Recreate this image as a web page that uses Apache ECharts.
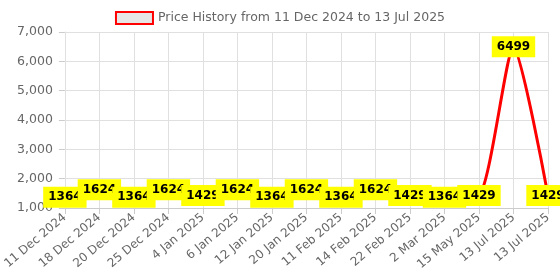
<!DOCTYPE html>
<html><head><meta charset="utf-8">
<script src="https://cdn.jsdelivr.net/npm/echarts@6/dist/echarts.min.js"></script>
<style>html,body{margin:0;padding:0;background:#fff}#c{width:560px;height:280px}</style>
</head><body><div id="c"></div>
<script>
const categories = ["11 Dec 2024","18 Dec 2024","20 Dec 2024","25 Dec 2024","4 Jan 2025","6 Jan 2025","12 Jan 2025","20 Jan 2025","11 Feb 2025","14 Feb 2025","22 Feb 2025","2 Mar 2025","15 May 2025","13 Jul 2025","13 Jul 2025"];
const prices = [1364,1624,1364,1624,1429,1624,1364,1624,1364,1624,1429,1364,1429,6499,1429];
const seriesName = "Price History from 11 Dec 2024 to 13 Jul 2025";
const yTicks = {min:1000, max:7000, interval:1000};

const chart = echarts.init(document.getElementById('c'), null, {renderer:'canvas'});
chart.setOption({
  animation:false,
  legend:{top:6, left:'center', icon:'rect', itemWidth:37, itemHeight:12, itemGap:8,
    itemStyle:{color:'#e6e6e6', borderColor:'#ff0000', borderWidth:2},
    textStyle:{color:'#666', fontSize:12.5, fontFamily:'DejaVu Sans'}},
  grid:{left:64, right:12, top:32, bottom:72},
  xAxis:{type:'category', data:categories, boundaryGap:false,
    axisLine:{lineStyle:{color:'#ccc'}},
    axisTick:{show:true, length:6, lineStyle:{color:'#ccc'}},
    splitLine:{show:true, lineStyle:{color:'#e0e0e0'}},
    axisLabel:{rotate:40, interval:0, color:'#666', fontSize:12, fontFamily:'DejaVu Sans', margin:8}},
  yAxis:{type:'value', min:yTicks.min, max:yTicks.max, interval:yTicks.interval,
    axisLine:{show:true, lineStyle:{color:'#e0e0e0'}},
    axisTick:{show:true, length:6, lineStyle:{color:'#ccc'}},
    splitLine:{lineStyle:{color:'#e0e0e0'}},
    axisLabel:{color:'#666', fontSize:12.5, fontFamily:'DejaVu Sans', margin:12,
      formatter:v=>v.toLocaleString('en-US')}},
  series:[{name:seriesName, type:'line', data:prices, smooth:0.2,
    symbol:'circle', symbolSize:1, showSymbol:true,
    lineStyle:{color:'#ff0000', width:3},
    itemStyle:{color:'#ff0000'},
    label:{show:true, position:'inside', color:'#000', fontWeight:'bold', fontSize:12,
      fontFamily:'DejaVu Sans', backgroundColor:'#ffff00', padding:[5,5,4,5]}}]
});
</script></body></html>
